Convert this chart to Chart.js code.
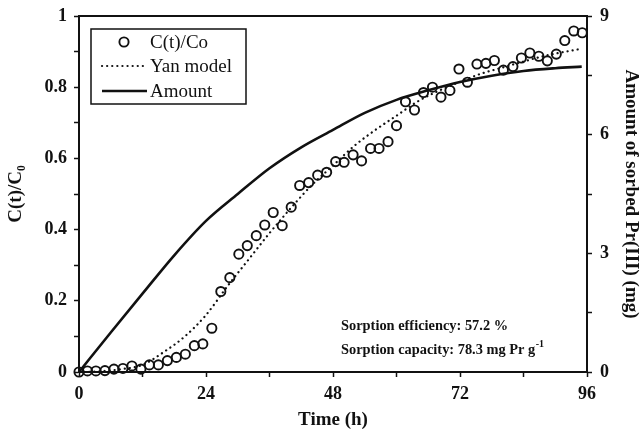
<!DOCTYPE html>
<html>
<head>
<meta charset="utf-8">
<script src="https://cdn.jsdelivr.net/npm/chart.js@4/dist/chart.umd.min.js"></script>
<style>
  html, body { margin: 0; padding: 0; background: #fff; }
  #wrap { width: 643px; height: 432px; position: relative; }
</style>
</head>
<body>
<div id="wrap"><canvas id="chart" width="643" height="432"></canvas></div>
<script>
// measured points, C(t)/Co
const times = [0, 1.6, 3.2, 4.9, 6.6, 8.3, 10, 11.7, 13.3, 15, 16.7, 18.4, 20.1, 21.8, 23.4, 25.1,
    26.8, 28.5, 30.2, 31.8, 33.5, 35.1, 36.7, 38.4, 40.1, 41.7, 43.4, 45.1, 46.8, 48.5, 50.1, 51.8,
    53.4, 55.1, 56.7, 58.4, 60, 61.7, 63.4, 65.1, 66.8, 68.4, 70.1, 71.8, 73.4, 75.2, 76.9, 78.5,
    80.2, 82, 83.6, 85.2, 86.9, 88.5, 90.2, 91.8, 93.5, 95.1];
const ratio = [0, 0.003, 0.003, 0.004, 0.008, 0.01, 0.017, 0.008, 0.02, 0.02, 0.032, 0.041, 0.05, 0.074,
    0.079, 0.123, 0.226, 0.265, 0.331, 0.355, 0.383, 0.413, 0.448, 0.411, 0.463, 0.524, 0.532, 0.553,
    0.561, 0.591, 0.589, 0.61, 0.593, 0.628, 0.628, 0.647, 0.692, 0.759, 0.736, 0.785, 0.8, 0.772,
    0.791, 0.851, 0.814, 0.865, 0.867, 0.875, 0.848, 0.858, 0.882, 0.896, 0.887, 0.874, 0.893, 0.931,
    0.958, 0.953];

// Yan model curve
const yanTimes = [0, 4, 8, 12, 16, 20, 24, 28, 32, 36, 40, 44, 48, 52, 56, 60, 64, 68, 72, 76, 80, 84, 88, 92, 95];
const yanValues = [0, 0.002, 0.008, 0.02, 0.056, 0.1, 0.16, 0.24, 0.315, 0.39, 0.46, 0.525, 0.58, 0.635,
    0.68, 0.72, 0.76, 0.79, 0.815, 0.838, 0.855, 0.872, 0.888, 0.9, 0.908];

// amount of sorbed Pr(III), mg
const amountTimes = [0, 6, 12, 18, 24, 30, 36, 42, 48, 54, 60, 66, 72, 78, 84, 90, 95];
const amountValues = [0, 1.0, 1.98, 2.95, 3.82, 4.5, 5.15, 5.68, 6.12, 6.55, 6.88, 7.12, 7.33, 7.49, 7.61, 7.68, 7.72];

const xTickLabels = ['0', '24', '48', '72', '96'];
const leftTickLabels = ['0', '0.2', '0.4', '0.6', '0.8', '1'];
const rightTickLabels = ['0', '3', '6', '9'];

const legendItems = ['C(t)/Co', 'Yan model', 'Amount'];
const noteLines = ['Sorption efficiency: 57.2 %', 'Sorption capacity: 78.3 mg Pr g'];
const noteSup = '-1';

const serif = "'Liberation Serif', 'Times New Roman', serif";
const tickFont = { family: serif, size: 18, weight: 'bold' };
const titleFont = { family: serif, size: 19, weight: 'bold' };

function pairs(xs, ys) {
    return xs.map((x, i) => ({ x: x, y: ys[i] }));
}

function axisStyle() {
    return {
        grid: { display: true, drawOnChartArea: false, drawTicks: true, tickLength: 5, tickColor: '#111', tickWidth: 1.5 },
        border: { display: true, color: '#111', width: 2 },
    };
}

const frameAndNotes = {
    id: 'frameAndNotes',
    afterDraw(chart) {
        const ctx = chart.ctx;
        const a = chart.chartArea;
        ctx.save();
        // top border
        ctx.strokeStyle = '#111';
        ctx.lineWidth = 2;
        ctx.beginPath();
        ctx.moveTo(a.left - 1, a.top);
        ctx.lineTo(a.right + 1, a.top);
        ctx.stroke();

        // legend box
        const bx = 91, by = 29, bw = 155, bh = 75;
        ctx.lineWidth = 1.5;
        ctx.strokeRect(bx, by, bw, bh);
        ctx.font = '19px ' + serif;
        ctx.fillStyle = '#111';
        ctx.textBaseline = 'middle';
        const rows = [42, 66, 91];
        const ds = chart.data.datasets;
        // circle
        ctx.beginPath();
        ctx.lineWidth = ds[0].borderWidth;
        ctx.arc(124, rows[0], ds[0].pointRadius, 0, Math.PI * 2);
        ctx.stroke();
        // dotted
        ctx.beginPath();
        ctx.lineWidth = ds[1].borderWidth;
        ctx.lineCap = 'round';
        ctx.setLineDash(ds[1].borderDash);
        ctx.moveTo(102, rows[1]);
        ctx.lineTo(143, rows[1]);
        ctx.stroke();
        ctx.setLineDash([]);
        // solid
        ctx.beginPath();
        ctx.lineWidth = ds[2].borderWidth;
        ctx.lineCap = 'butt';
        ctx.moveTo(102, rows[2]);
        ctx.lineTo(147, rows[2]);
        ctx.stroke();
        legendItems.forEach((t, i) => ctx.fillText(t, 150, rows[i] + 1));

        // notes
        ctx.textBaseline = 'alphabetic';
        ctx.font = 'bold 14.4px ' + serif;
        ctx.fillText(noteLines[0], 341, 330);
        ctx.fillText(noteLines[1], 341, 354);
        const w = ctx.measureText(noteLines[1]).width;
        ctx.font = 'bold 10px ' + serif;
        ctx.fillText(noteSup, 341 + w + 0.5, 347);
        ctx.restore();
    }
};

function vertFit(width) {
    return (s) => {
        s.width = width;
        s.paddingTop = 0;
        s.paddingBottom = 0;
    };
}

new Chart(document.getElementById('chart'), {
    type: 'line',
    data: {
        datasets: [
            {
                label: legendItems[0],
                data: pairs(times, ratio),
                showLine: false,
                yAxisID: 'y',
                pointStyle: 'circle',
                pointRadius: 4.6,
                pointBorderWidth: 1.9,
                borderWidth: 1.9,
                borderColor: '#111',
                pointBorderColor: '#111',
                pointBackgroundColor: 'rgba(255,255,255,0)',
                clip: false,
            },
            {
                label: legendItems[1],
                data: pairs(yanTimes, yanValues),
                yAxisID: 'y',
                borderColor: '#111',
                borderWidth: 2.2,
                borderDash: [0.1, 5],
                borderCapStyle: 'round',
                pointRadius: 0,
                cubicInterpolationMode: 'monotone',
            },
            {
                label: legendItems[2],
                data: pairs(amountTimes, amountValues),
                yAxisID: 'y2',
                borderColor: '#111',
                borderWidth: 2.6,
                pointRadius: 0,
                cubicInterpolationMode: 'monotone',
            },
        ],
    },
    options: {
        responsive: false,
        animation: false,
        layout: { padding: { left: 0, right: 0, top: 16, bottom: 0 } },
        plugins: { legend: { display: false }, tooltip: { enabled: false } },
        scales: {
            x: {
                type: 'linear',
                min: 0,
                max: 96,
                ...axisStyle(),
                ticks: {
                    stepSize: 12,
                    color: '#111',
                    font: tickFont,
                    padding: 7,
                    maxRotation: 0,
                    autoSkip: false,
                    callback: (v, i) => (i % 2 === 0 ? xTickLabels[i / 2] : ''),
                },
                title: { display: true, text: 'Time (h)', color: '#111', font: titleFont, padding: { top: 0, bottom: 1 } },
                afterFit: (s) => { s.height = 60; s.paddingLeft = 0; s.paddingRight = 0; },
            },
            y: {
                position: 'left',
                min: 0,
                max: 1,
                ...axisStyle(),
                ticks: {
                    stepSize: 0.1,
                    color: '#111',
                    font: tickFont,
                    padding: 7,
                    autoSkip: false,
                    callback: (v, i) => (i % 2 === 0 ? leftTickLabels[i / 2] : ''),
                },
                title: { display: true, text: 'C(t)/C\u2080', color: '#111', font: titleFont, padding: { top: 5, bottom: 2 } },
                afterFit: vertFit(79),
            },
            y2: {
                position: 'right',
                min: 0,
                max: 9,
                ...axisStyle(),
                ticks: {
                    stepSize: 1.5,
                    color: '#111',
                    font: tickFont,
                    padding: 8,
                    autoSkip: false,
                    callback: (v, i) => (i % 2 === 0 ? rightTickLabels[i / 2] : ''),
                },
                title: { display: true, text: 'Amount of sorbed Pr(III) (mg)', color: '#111', font: titleFont, padding: { top: 1 } },
                afterFit: vertFit(56),
            },
        },
    },
    plugins: [frameAndNotes],
});
</script>
</body>
</html>
